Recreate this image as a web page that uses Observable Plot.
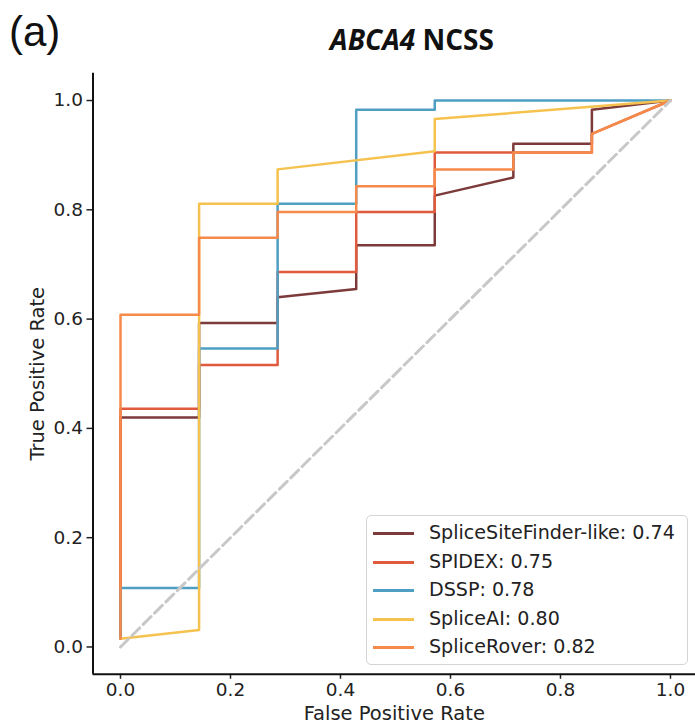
<!DOCTYPE html>
<html>
<head>
<meta charset="utf-8">
<script src="https://cdn.jsdelivr.net/npm/d3@7"></script>
<script src="https://cdn.jsdelivr.net/npm/@observablehq/plot@0.6"></script>
<style>
  body { margin: 0; background: #fff; }
  #wrap { position: relative; width: 695px; height: 727px; overflow: hidden; font-family: "DejaVu Sans", sans-serif; }
  #panel { position: absolute; left: 9px; top: 8px; font: 42px "Liberation Sans", sans-serif; color: #111; }
  #title { position: absolute; left: 312px; width: 200px; top: 20px; text-align: center; font: bold 28px "Open Sans", sans-serif; color: #111; white-space: nowrap; }
  #legend { position: absolute; left: 366px; top: 515px; width: 320px; height: 148px; border: 1.5px solid #d4d4d4; border-radius: 5px; background: rgba(255,255,255,0.85); }
  .row { position: absolute; left: 0; height: 28px; width: 100%; }
  .swatch { position: absolute; left: 6px; top: 13px; width: 41px; height: 3px; }
  .label { position: absolute; left: 62px; top: 0; font-size: 19.1px; line-height: 28px; color: #222; white-space: nowrap; }
  #chart { position: absolute; left: 0; top: 0; }
</style>
</head>
<body>
<div id="wrap">
  <div id="chart"></div>
  <div id="panel">(a)</div>
  <div id="title"><i>ABCA4</i> NCSS</div>
  <div id="legend"></div>
</div>
<script>
// ROC curves (false positive rate, true positive rate) for each splice predictor
const modelNames = ["SpliceSiteFinder-like", "SPIDEX", "DSSP", "SpliceAI", "SpliceRover"];
const modelAuc = [0.74, 0.75, 0.78, 0.80, 0.82];
const modelColors = ["#7d3a3a", "#e05a3d", "#4f9ec3", "#f6c24f", "#f58a4b"];

const rocSpliceSiteFinder = [
  [0, 0.015], [0, 0.420], [0.1429, 0.420], [0.1429, 0.593], [0.2857, 0.593],
  [0.2857, 0.640], [0.4286, 0.655], [0.4286, 0.735], [0.5714, 0.735],
  [0.5714, 0.826], [0.7143, 0.859], [0.7143, 0.921], [0.8571, 0.921],
  [0.8571, 0.983], [1, 1]
];
const rocSpidex = [
  [0, 0.015], [0, 0.436], [0.1429, 0.436], [0.1429, 0.516], [0.2857, 0.516],
  [0.2857, 0.686], [0.4286, 0.686], [0.4286, 0.796], [0.5714, 0.796],
  [0.5714, 0.905], [0.8571, 0.905], [0.8571, 0.939], [1, 1]
];
const rocDssp = [
  [0, 0.015], [0, 0.108], [0.1429, 0.108], [0.1429, 0.546], [0.2857, 0.546],
  [0.2857, 0.811], [0.4286, 0.811], [0.4286, 0.983], [0.5714, 0.983],
  [0.5714, 1], [1, 1]
];
const rocSpliceAI = [
  [0, 0.015], [0.1429, 0.031], [0.1429, 0.811], [0.2857, 0.811],
  [0.2857, 0.874], [0.5714, 0.907], [0.5714, 0.966], [1, 1]
];
const rocSpliceRover = [
  [0, 0.015], [0, 0.608], [0.1429, 0.608], [0.1429, 0.749], [0.2857, 0.749],
  [0.2857, 0.796], [0.4286, 0.796], [0.4286, 0.843], [0.5714, 0.843],
  [0.5714, 0.874], [0.7143, 0.874], [0.7143, 0.905], [0.8571, 0.905],
  [0.8571, 0.939], [1, 1]
];
const chanceLine = [[0, 0], [1, 1]];
const tickValues = [0, 0.2, 0.4, 0.6, 0.8, 1.0];
const xLabel = "False Positive Rate";
const yLabel = "True Positive Rate";

const curves = [rocSpliceSiteFinder, rocSpidex, rocDssp, rocSpliceAI, rocSpliceRover];

// axis limits pad the unit square by 5% on each side
const xDomain = [-0.05, 1.0455];
const yDomain = [-0.05, 1.05];

const chart = Plot.plot({
  width: 695,
  height: 727,
  marginTop: 72.7,
  marginBottom: 53.2,
  marginLeft: 92.5,
  marginRight: 0,
  x: { domain: xDomain },
  y: { domain: yDomain },
  style: { fontFamily: "DejaVu Sans, sans-serif", fontSize: "18.5px", color: "#222", background: "transparent" },
  marks: [
    Plot.axisX({
      ticks: tickValues, tickFormat: d3.format(".1f"), tickSize: 5, tickPadding: 4,
      strokeWidth: 1.5, fontSize: 18.5, label: null
    }),
    Plot.axisY({
      ticks: tickValues, tickFormat: d3.format(".1f"), tickSize: 6, tickPadding: 4,
      strokeWidth: 1.5, fontSize: 18.5, label: null
    }),
    Plot.text([xLabel], {
      text: d => d, frameAnchor: "bottom", textAnchor: "middle", lineAnchor: "middle",
      dy: 39, fontSize: 19.5, fill: "#222"
    }),
    Plot.text([yLabel], {
      text: d => d, frameAnchor: "left", textAnchor: "middle", lineAnchor: "middle",
      dx: -55, rotate: -90, fontSize: 19.5, fill: "#222"
    }),
    ...curves.map((c, i) => Plot.line(c, {
      x: d => d[0], y: d => d[1],
      stroke: modelColors[i], strokeWidth: 2.5, strokeLinejoin: "round"
    })),
    Plot.line(chanceLine, {
      x: d => d[0], y: d => d[1],
      stroke: "#c8c8c8", strokeWidth: 3, strokeDasharray: "11,5"
    }),
    Plot.ruleX([xDomain[0]], { stroke: "#111", strokeWidth: 2 }),
    Plot.ruleY([yDomain[0]], { stroke: "#111", strokeWidth: 2 })
  ]
});
document.getElementById("chart").appendChild(chart);

// legend box in the lower right of the axes
const legend = document.getElementById("legend");
modelNames.forEach((name, i) => {
  const row = document.createElement("div");
  row.className = "row";
  row.style.top = (3 + i * 28.5) + "px";
  const sw = document.createElement("div");
  sw.className = "swatch";
  sw.style.background = modelColors[i];
  const lb = document.createElement("div");
  lb.className = "label";
  lb.textContent = `${name}: ${modelAuc[i].toFixed(2)}`;
  row.appendChild(sw);
  row.appendChild(lb);
  legend.appendChild(row);
});
</script>
</body>
</html>
